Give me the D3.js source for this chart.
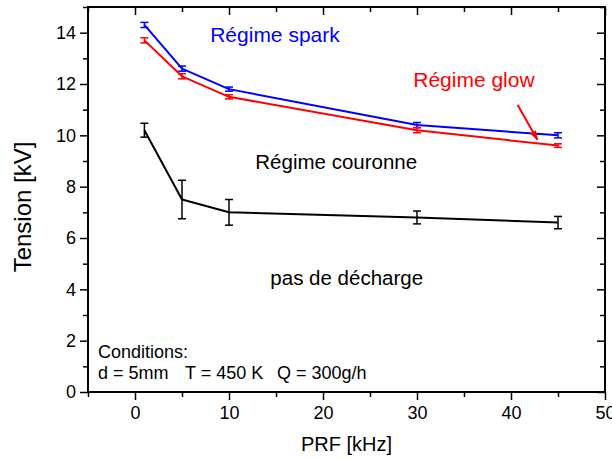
<!DOCTYPE html>
<html>
<head>
<meta charset="utf-8">
<script src="https://cdn.jsdelivr.net/npm/d3@7"></script>
<style>
  html, body { margin: 0; padding: 0; background: #fff; }
  svg { display: block; font-family: "Liberation Sans", Arial, sans-serif; }
</style>
</head>
<body>
<svg id="chart" width="612" height="459"></svg>
<script>
// PRF values (kHz) shared by all three series
const prf = [1, 5, 10, 30, 45];

// Breakdown voltages (kV) and their error half-widths
const sparkV = [14.3, 12.6, 11.8, 10.4, 10.0];
const sparkErr = [0.1, 0.1, 0.08, 0.1, 0.1];
const glowV = [13.7, 12.3, 11.5, 10.2, 9.6];
const glowErr = [0.1, 0.1, 0.08, 0.1, 0.07];
const coronaV = [10.2, 7.5, 7.0, 6.8, 6.6];
const coronaErr = [0.27, 0.75, 0.5, 0.25, 0.24];

// Axis ticks
const xMajor = [0, 10, 20, 30, 40, 50];
const xMinor = [-5, 5, 15, 25, 35, 45];
const yMajor = [0, 2, 4, 6, 8, 10, 12, 14];
const yMinor = [1, 3, 5, 7, 9, 11, 13, 15];

const svg = d3.select("#chart");
const plotL = 88, plotR = 605, plotT = 7, plotB = 392;

const x = d3.scaleLinear().domain([-5, 50]).range([plotL, plotR]);
const y = d3.scaleLinear().domain([0, 15]).range([plotB, plotT]);

const majorLen = 8, minorLen = 5;

function styleAxis(g) {
  g.select(".domain").remove();
  g.selectAll(".tick line").attr("stroke", "#000").attr("stroke-width", 1.5);
  g.selectAll("text").attr("fill", "#000").attr("font-size", 18)
    .attr("font-family", "Liberation Sans, Arial, sans-serif");
}

// Bottom axis (outward ticks)
svg.append("g").attr("transform", `translate(0,${plotB})`)
  .call(d3.axisBottom(x).tickValues(xMajor).tickFormat(d3.format("d"))
    .tickSizeInner(majorLen).tickSizeOuter(0).tickPadding(6))
  .call(styleAxis);
svg.append("g").attr("transform", `translate(0,${plotB})`)
  .call(d3.axisBottom(x).tickValues(xMinor).tickFormat("")
    .tickSizeInner(minorLen).tickSizeOuter(0))
  .call(styleAxis);

// Left axis (outward ticks)
svg.append("g").attr("transform", `translate(${plotL},0)`)
  .call(d3.axisLeft(y).tickValues(yMajor).tickFormat(d3.format("d"))
    .tickSizeInner(majorLen).tickSizeOuter(0).tickPadding(4))
  .call(styleAxis);
svg.append("g").attr("transform", `translate(${plotL},0)`)
  .call(d3.axisLeft(y).tickValues(yMinor).tickFormat("")
    .tickSizeInner(minorLen).tickSizeOuter(0))
  .call(styleAxis);

// Mirrored top and right ticks pointing into the plot
svg.append("g").attr("transform", `translate(0,${plotT})`)
  .call(d3.axisTop(x).tickValues(xMajor).tickFormat("")
    .tickSizeInner(-majorLen).tickSizeOuter(0))
  .call(styleAxis);
svg.append("g").attr("transform", `translate(0,${plotT})`)
  .call(d3.axisTop(x).tickValues(xMinor).tickFormat("")
    .tickSizeInner(-minorLen).tickSizeOuter(0))
  .call(styleAxis);
svg.append("g").attr("transform", `translate(${plotR},0)`)
  .call(d3.axisRight(y).tickValues(yMajor).tickFormat("")
    .tickSizeInner(-majorLen).tickSizeOuter(0))
  .call(styleAxis);
svg.append("g").attr("transform", `translate(${plotR},0)`)
  .call(d3.axisRight(y).tickValues(yMinor).tickFormat("")
    .tickSizeInner(-minorLen).tickSizeOuter(0))
  .call(styleAxis);

// Plot frame
svg.append("rect")
  .attr("x", plotL).attr("y", plotT)
  .attr("width", plotR - plotL).attr("height", plotB - plotT)
  .attr("fill", "none").attr("stroke", "#000").attr("stroke-width", 2);

// Series
const series = [
  { v: sparkV, e: sparkErr, color: "#0000ff" },
  { v: glowV, e: glowErr, color: "#ff0000" },
  { v: coronaV, e: coronaErr, color: "#000000" }
];

const line = d3.line().x(d => x(d.x)).y(d => y(d.y));
const capHalf = 4;

series.forEach(s => {
  const pts = prf.map((p, i) => ({ x: p, y: s.v[i], e: s.e[i] }));
  const g = svg.append("g");
  g.append("path").datum(pts).attr("d", line)
    .attr("fill", "none").attr("stroke", s.color).attr("stroke-width", 2)
    .attr("stroke-linejoin", "round");
  const eb = g.selectAll(".eb").data(pts).join("g")
    .attr("stroke", s.color).attr("stroke-width", 1.5);
  eb.append("line")
    .attr("x1", d => x(d.x)).attr("x2", d => x(d.x))
    .attr("y1", d => y(d.y - d.e)).attr("y2", d => y(d.y + d.e));
  eb.append("line")
    .attr("x1", d => x(d.x) - capHalf).attr("x2", d => x(d.x) + capHalf)
    .attr("y1", d => y(d.y + d.e)).attr("y2", d => y(d.y + d.e));
  eb.append("line")
    .attr("x1", d => x(d.x) - capHalf).attr("x2", d => x(d.x) + capHalf)
    .attr("y1", d => y(d.y - d.e)).attr("y2", d => y(d.y - d.e));
});

// Region labels
const labels = [
  { t: "Régime spark", x: 8, y: 13.63, c: "#0000ff", s: 21 },
  { t: "Régime glow", x: 29.6, y: 11.89, c: "#ff0000", s: 21 },
  { t: "Régime couronne", x: 12.8, y: 8.68, c: "#000000", s: 20.5 },
  { t: "pas de décharge", x: 14.4, y: 4.17, c: "#000000", s: 20.5 }
];
svg.selectAll(".lbl").data(labels).join("text")
  .attr("x", d => x(d.x)).attr("y", d => y(d.y))
  .attr("fill", d => d.c).attr("font-size", d => d.s)
  .text(d => d.t);

// Arrow pointing at the glow curve
svg.append("defs").append("marker")
  .attr("id", "head").attr("viewBox", "0 0 10 10")
  .attr("refX", 9).attr("refY", 5)
  .attr("markerWidth", 10).attr("markerHeight", 10)
  .attr("markerUnits", "userSpaceOnUse")
  .attr("orient", "auto")
  .append("path").attr("d", "M0,1.5 L10,5 L0,8.5 Z").attr("fill", "#ff0000");
svg.append("line")
  .attr("x1", x(40.7)).attr("y1", y(11.19))
  .attr("x2", x(42.8)).attr("y2", y(9.83))
  .attr("stroke", "#ff0000").attr("stroke-width", 2)
  .attr("marker-end", "url(#head)");

// Experimental conditions
const condText = [
  { t: "Conditions:", x: 98, y: 358 },
  { t: "d = 5mm", x: 98, y: 379 },
  { t: "T = 450 K", x: 185, y: 379 },
  { t: "Q = 300g/h", x: 277, y: 379 }
];
svg.selectAll(".cond").data(condText).join("text")
  .attr("x", d => d.x).attr("y", d => d.y)
  .attr("font-size", 18).attr("fill", "#000")
  .text(d => d.t);

// Axis titles
svg.append("text")
  .attr("x", (plotL + plotR) / 2).attr("y", 451)
  .attr("text-anchor", "middle").attr("font-size", 20)
  .text("PRF [kHz]");
svg.append("text")
  .attr("transform", `translate(31,207) rotate(-90)`)
  .attr("text-anchor", "middle").attr("font-size", 24)
  .text("Tension [kV]");
</script>
</body>
</html>
